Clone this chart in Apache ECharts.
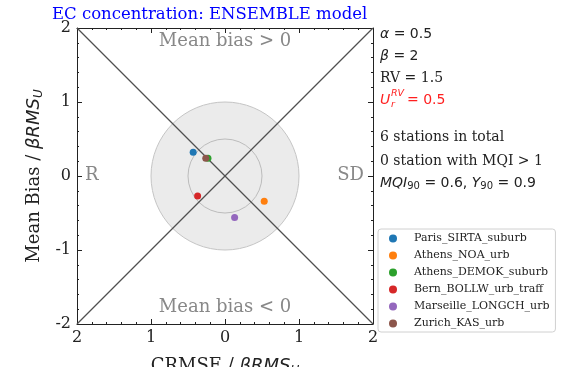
<!DOCTYPE html>
<html lang="en">
<head>
    <meta charset="UTF-8">
    <title>EC concentration</title>
    <script src="https://cdn.jsdelivr.net/npm/echarts@6/dist/echarts.min.js"></script>
</head>
<style>
    body{
        margin: 0;
        padding: 0;
        background: #fff;
    }
</style>
<body>
<div id="main" style="width: 567px;height:367px;"></div>
<script>
    // stations and their position in the target diagram
    var stations = ['Paris_SIRTA_suburb', 'Athens_NOA_urb', 'Athens_DEMOK_suburb',
        'Bern_BOLLW_urb_traff', 'Marseille_LONGCH_urb', 'Zurich_KAS_urb'];
    var crmse = [-0.43, 0.53, -0.23, -0.37, 0.13, -0.26];
    var bias = [0.32, -0.34, 0.24, -0.27, -0.56, 0.24];
    var colors = ['#1f77b4', '#ff7f0e', '#2ca02c', '#d62728', '#9467bd', '#8c564b'];
    var circles = [1, 0.5];

    var serif = 'DejaVu Serif';
    var sans = 'DejaVu Sans';

    var chart = echarts.init(document.getElementById('main'));

    var series = [];
    // grey circles (radius in axis units)
    series.push({
        type: 'custom',
        silent: true,
        z: 1,
        data: circles.map(function (r) { return [0, 0, r]; }),
        renderItem: function (params, api) {
            var c = api.coord([api.value(0), api.value(1)]);
            var r = api.size([api.value(2), 0])[0];
            var filled = params.dataIndex === 0;
            return {
                type: 'circle',
                shape: {cx: c[0], cy: c[1], r: r},
                style: filled ? {fill: '#ebebeb', stroke: '#c4c4c4', lineWidth: 1}
                              : {fill: 'none', stroke: '#bcbcbc', lineWidth: 1}
            };
        }
    });
    // diagonals
    [[[-2, -2], [2, 2]], [[-2, 2], [2, -2]]].forEach(function (d) {
        series.push({
            type: 'line',
            data: d,
            symbol: 'none',
            silent: true,
            z: 2,
            lineStyle: {color: '#505050', width: 1.2}
        });
    });
    for (var i = 0; i < stations.length; i++) {
        series.push({
            name: stations[i],
            type: 'scatter',
            data: [[crmse[i], bias[i]]],
            symbolSize: 7,
            z: 3,
            itemStyle: {color: colors[i], opacity: 1}
        });
    }

    var axisCommon = {
        type: 'value',
        min: -2,
        max: 2,
        interval: 1,
        axisLine: {show: true, onZero: false, lineStyle: {color: '#222', width: 1}},
        axisTick: {show: true, inside: true, length: 5, lineStyle: {color: '#222'}},
        minorTick: {show: true, splitNumber: 5, length: 2, lineStyle: {color: '#222'}},
        splitLine: {show: false}
    };

    var nameRich = {
        n: {fontFamily: serif, fontSize: 18, color: '#222'},
        i: {fontFamily: sans, fontStyle: 'italic', fontSize: 18, color: '#222'},
        s: {fontFamily: sans, fontStyle: 'italic', fontSize: 12, color: '#222', padding: [9, 0, 0, 0]}
    };

    function txt(x, y, text, font, color, align) {
        return {type: 'text', x: x, y: y, style: {
            text: text, font: font, fill: color || '#222',
            align: align || 'left', verticalAlign: 'middle'
        }};
    }

    var option = {
        animation: false,
        title: {
            text: 'EC concentration: ENSEMBLE model',
            left: 52,
            top: 6,
            padding: 0,
            textStyle: {fontFamily: serif, fontSize: 16.5, fontWeight: 'normal', color: '#0000ff'}
        },
        grid: {left: 77, right: 194, top: 28, bottom: 43, outerBoundsMode: 'none'},
        legend: {
            orient: 'vertical',
            left: 378,
            top: 229,
            padding: [4, 6, 3, 11],
            itemGap: 6,
            itemWidth: 8,
            itemHeight: 8,
            icon: 'circle',
            borderColor: '#d0d0d0',
            borderWidth: 1,
            borderRadius: 3,
            data: stations,
            textStyle: {fontFamily: serif, fontSize: 11, color: '#222', padding: [0, 0, 0, 12]}
        },
        xAxis: [
            Object.assign({}, axisCommon, {
                position: 'bottom',
                name: '{n|CRMSE / }{i|βRMS}{s|U}',
                nameLocation: 'middle',
                nameGap: 32,
                nameTextStyle: {rich: nameRich},
                axisLabel: {
                    fontFamily: serif, fontSize: 16, color: '#222', margin: 6,
                    formatter: function (v) { return String(Math.abs(v)); }
                }
            }),
            Object.assign({}, axisCommon, {position: 'top', axisLabel: {show: false}})
        ],
        yAxis: [
            Object.assign({}, axisCommon, {
                position: 'left',
                name: '{n|Mean Bias / }{i|βRMS}{s|U}',
                nameLocation: 'middle',
                nameGap: 28,
                nameTextStyle: {rich: nameRich},
                axisLabel: {
                    fontFamily: serif, fontSize: 16, color: '#222', margin: 6,
                    formatter: function (v) { return String(v); }
                }
            }),
            Object.assign({}, axisCommon, {position: 'right', axisLabel: {show: false}})
        ],
        graphic: [
            txt(225, 41, 'Mean bias > 0', '18px "DejaVu Serif"', '#888', 'center'),
            txt(225, 307, 'Mean bias < 0', '18px "DejaVu Serif"', '#888', 'center'),
            txt(85, 175, 'R', '18px "DejaVu Serif"', '#888'),
            txt(364, 175, 'SD', '18px "DejaVu Serif"', '#888', 'right'),

            {type: 'text', x: 380, y: 34, style: {
                text: '{i|α}{n| = 0.5}', verticalAlign: 'middle',
                rich: {i: {fontFamily: sans, fontStyle: 'italic', fontSize: 14, fill: '#222'},
                       n: {fontFamily: sans, fontSize: 14, fill: '#222'}}
            }},
            {type: 'text', x: 380, y: 56, style: {
                text: '{i|β}{n| = 2}', verticalAlign: 'middle',
                rich: {i: {fontFamily: sans, fontStyle: 'italic', fontSize: 14, fill: '#222'},
                       n: {fontFamily: sans, fontSize: 14, fill: '#222'}}
            }},
            txt(380, 78, 'RV = 1.5', '14px "DejaVu Serif"'),
            txt(380, 100, 'U', 'italic 14px "DejaVu Sans"', '#ff2020'),
            txt(391, 94, 'RV', 'italic 9.5px "DejaVu Sans"', '#ff2020'),
            txt(391, 105, 'r', 'italic 9.5px "DejaVu Sans"', '#ff2020'),
            txt(407, 100, '= 0.5', '14px "DejaVu Sans"', '#ff2020'),
            txt(380, 137, '6 stations in total', '14px "DejaVu Serif"'),
            txt(380, 161, '0 station with MQI > 1', '14px "DejaVu Serif"'),
            {type: 'text', x: 380, y: 183, style: {
                text: '{i|MQI}{s|90}{n| = 0.6, }{i|Y}{s|90}{n| = 0.9}',
                verticalAlign: 'middle',
                rich: {
                    i: {fontFamily: sans, fontStyle: 'italic', fontSize: 14, fill: '#222'},
                    n: {fontFamily: sans, fontSize: 14, fill: '#222'},
                    s: {fontFamily: sans, fontSize: 10, fill: '#222', padding: [7, 0, 0, 0]}
                }
            }}
        ],
        series: series
    };
    chart.setOption(option);
</script>
</body>
</html>
